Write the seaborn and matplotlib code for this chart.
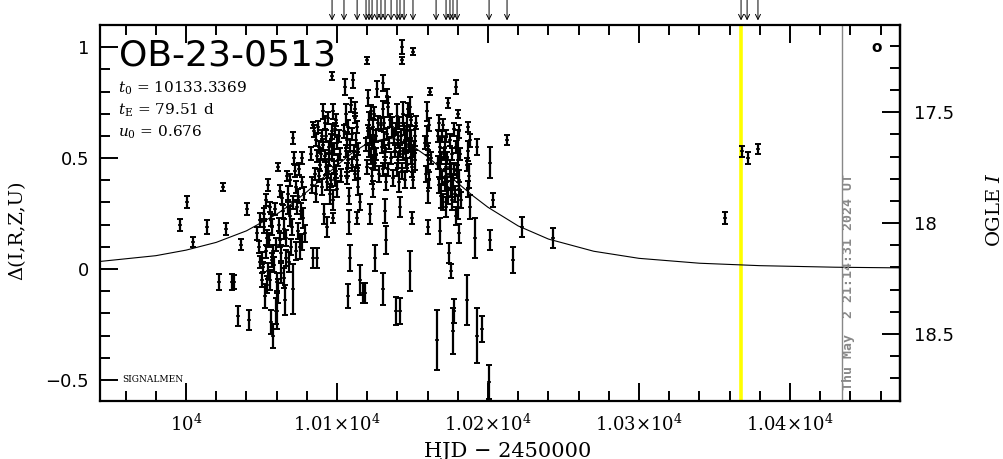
import matplotlib
matplotlib.use('Agg')
import matplotlib.pyplot as plt
from matplotlib.ticker import FixedLocator, MultipleLocator
import pandas as pd
import seaborn as sns

# event info
event_name = 'OB-23-0513'
param_lines = [r'$t_0$ = 10133.3369', r'$t_{\rm E}$ = 79.51 d', r'$u_0$ = 0.676']
stamp = 'Thu May  2 21:14:31 2024 UT'

# photometry: HJD-2450000, delta mag, error
hjd = [9996.0, 10000.7, 10004.6, 10013.9, 10024.5, 10026.5, 10021.9, 10030.5, 10031.8, 10034.4,
       10040.4, 10036.4, 10041.7, 10049.0, 10050.3, 10051.0, 10052.3, 10053.6, 10054.3, 10055.6,
       10057.0, 10057.6, 10058.3, 10059.6, 10057.6, 10060.9, 10062.3, 10063.6, 10064.9, 10066.2,
       10066.9, 10067.6, 10068.9, 10069.5, 10070.9, 10070.9, 10071.5, 10072.9, 10073.5, 10074.2,
       10076.8, 10077.5, 10076.8, 10054.3, 10055.6, 10060.9, 10062.9, 10065.6, 10056.3, 10048.3,
       10051.7, 10053.0, 10084.1, 10085.4, 10084.1, 10086.1, 10086.8, 10088.1, 10088.7, 10090.1,
       10090.7, 10091.4, 10092.7, 10093.4, 10093.4, 10094.7, 10095.4, 10096.7, 10096.7, 10097.4,
       10097.4, 10097.4, 10098.0, 10098.7, 10099.3, 10100.0, 10100.7, 10105.3, 10106.0, 10106.6,
       10107.3, 10106.6, 10108.0, 10108.6, 10107.3, 10110.6, 10111.9, 10112.6, 10113.2, 10113.9,
       10113.2, 10115.2, 10117.2, 10119.9, 10120.5, 10121.2, 10121.9, 10122.5, 10123.2, 10121.9,
       10123.8, 10124.5, 10125.2, 10125.2, 10126.5, 10130.5, 10130.5, 10131.1, 10131.8, 10132.4,
       10131.8, 10132.4, 10130.5, 10133.8, 10136.4, 10139.7, 10140.4, 10140.4, 10141.1, 10141.7,
       10141.7, 10143.1, 10143.1, 10143.7, 10145.0, 10145.7, 10146.4, 10148.3, 10149.0, 10149.7,
       10149.7, 10148.3, 10150.3, 10151.7, 10151.7, 10159.6, 10159.6, 10160.3, 10160.3, 10161.6,
       10160.3, 10166.2, 10167.5, 10168.2, 10168.2, 10168.9, 10168.2, 10170.2, 10171.5, 10172.2,
       10172.8, 10172.2, 10173.5, 10174.2, 10175.5, 10175.5, 10176.2, 10176.8, 10177.5, 10178.8,
       10180.2, 10180.2, 10180.2, 10180.8, 10180.2, 10180.8, 10186.1, 10186.8, 10186.8, 10187.4,
       10188.1, 10192.7, 10191.4, 10192.7, 10196.0, 10201.3, 10201.3, 10200.7, 10203.3, 10212.6,
       10222.5, 10216.6, 10243.1, 10368.2, 10372.2, 10378.8, 10357.0, 10139.0, 10118.5, 10086.8,
       10075.5, 10060.3, 10096.7]
dmag = [0.20, 0.30, 0.12, 0.19, 0.37, 0.18, -0.06, -0.06, -0.06, -0.21,
        0.27, 0.11, -0.23, 0.22, 0.05, 0.01, -0.12, 0.14, 0.38, 0.28,
        0.19, 0.08, 0.02, -0.19, -0.30, 0.46, 0.13, 0.32, 0.18, 0.05,
        0.42, 0.34, 0.24, 0.10, -0.09, 0.59, 0.50, 0.37, 0.28, 0.17,
        0.39, 0.23, 0.12, -0.01, -0.05, -0.10, -0.02, -0.14, -0.24, 0.10,
        0.25, 0.31, 0.05, 0.43, 0.65, 0.58, 0.51, 0.55, 0.47, 0.60,
        0.71, 0.25, 0.46, 0.39, 0.19, 0.55, 0.34, 0.62, 0.53, 0.71,
        0.31, 0.23, 0.46, 0.40, 0.67, 0.57, 0.49, 0.82, 0.70, 0.58,
        0.49, 0.41, 0.21, 0.05, -0.12, 0.85, 0.68, 0.58, 0.49, 0.37,
        0.23, -0.05, -0.11, 0.94, 0.77, 0.67, 0.60, 0.51, 0.42, 0.25,
        0.64, 0.55, 0.48, 0.05, 0.81, 0.84, 0.72, 0.58, 0.49, 0.39,
        0.26, 0.13, -0.09, 0.73, 0.64, 0.69, 0.58, 0.49, 0.39, 0.28,
        -0.19, 1.00, 0.94, 0.70, 0.58, 0.49, 0.64, 0.73, 0.58, 0.46,
        0.23, -0.01, 0.98, 0.60, 0.49, 0.71, 0.60, 0.49, 0.35, 0.80,
        0.19, -0.32, 0.66, 0.55, 0.45, 0.33, 0.17, 0.65, 0.55, 0.46,
        0.37, 0.28, 0.75, 0.07, -0.01, 0.42, 0.31, -0.28, -0.19, 0.82,
        0.70, 0.58, 0.49, 0.40, 0.28, 0.16, -0.14, 0.64, 0.53, 0.42,
        0.28, 0.55, 0.14, -0.30, -0.27, 0.48, 0.13, -0.51, 0.31, 0.58,
        0.19, 0.04, 0.14, 0.53, 0.50, 0.54, 0.23, -0.19, -0.11, 0.05,
        0.10, -0.19, 0.87]
derr = [0.027, 0.027, 0.023, 0.032, 0.018, 0.027, 0.036, 0.036, 0.032, 0.045,
        0.027, 0.023, 0.045, 0.032, 0.027, 0.023, 0.054, 0.036, 0.027, 0.023,
        0.036, 0.027, 0.032, 0.059, 0.054, 0.018, 0.032, 0.027, 0.045, 0.036,
        0.023, 0.036, 0.045, 0.036, 0.113, 0.027, 0.027, 0.027, 0.032, 0.036,
        0.023, 0.045, 0.036, 0.036, 0.045, 0.054, 0.045, 0.068, 0.054, 0.027,
        0.023, 0.027, 0.045, 0.027, 0.014, 0.027, 0.027, 0.027, 0.027, 0.027,
        0.032, 0.045, 0.036, 0.036, 0.045, 0.027, 0.045, 0.032, 0.032, 0.032,
        0.045, 0.023, 0.027, 0.027, 0.027, 0.027, 0.027, 0.036, 0.045, 0.036,
        0.036, 0.027, 0.054, 0.059, 0.054, 0.032, 0.023, 0.032, 0.036, 0.036,
        0.027, 0.068, 0.045, 0.014, 0.036, 0.036, 0.032, 0.036, 0.036, 0.045,
        0.036, 0.036, 0.032, 0.059, 0.036, 0.036, 0.036, 0.036, 0.036, 0.036,
        0.054, 0.063, 0.072, 0.045, 0.045, 0.054, 0.036, 0.036, 0.045, 0.045,
        0.059, 0.032, 0.014, 0.054, 0.045, 0.036, 0.054, 0.045, 0.045, 0.045,
        0.027, 0.090, 0.014, 0.045, 0.045, 0.045, 0.045, 0.045, 0.054, 0.014,
        0.032, 0.135, 0.036, 0.045, 0.045, 0.054, 0.059, 0.027, 0.045, 0.045,
        0.045, 0.045, 0.023, 0.045, 0.032, 0.054, 0.045, 0.104, 0.054, 0.032,
        0.018, 0.045, 0.045, 0.045, 0.054, 0.045, 0.113, 0.023, 0.045, 0.054,
        0.054, 0.036, 0.090, 0.126, 0.059, 0.068, 0.045, 0.077, 0.032, 0.023,
        0.045, 0.059, 0.045, 0.023, 0.027, 0.023, 0.027, 0.063, 0.045, 0.045,
        0.054, 0.081, 0.018]

# the crowded part of the season (many overlapping bars)
crowd_hjd = [10047.0, 10048.9, 10050.0, 10051.5, 10052.9, 10053.9, 10055.0, 10056.0, 10056.8, 10058.9,
             10059.3, 10060.2, 10061.5, 10062.0, 10063.0, 10064.0, 10065.0, 10066.0, 10067.2, 10068.0,
             10069.0, 10070.0, 10071.0, 10072.0, 10073.0, 10074.0, 10075.0, 10076.0, 10077.0, 10078.3,
             10079.0, 10082.5, 10083.3, 10085.0, 10085.8, 10087.4, 10087.9, 10089.3, 10089.8, 10091.0,
             10091.9, 10092.3, 10093.0, 10094.0, 10094.3, 10095.0, 10095.9, 10096.2, 10098.3, 10098.9,
             10099.6, 10100.3, 10101.2, 10101.8, 10102.3, 10104.5, 10105.7, 10106.3, 10107.0, 10107.7,
             10108.4, 10109.2, 10109.8, 10110.2, 10111.2, 10111.6, 10112.2, 10112.9, 10113.6, 10114.2,
             10114.9, 10119.5, 10120.1, 10120.8, 10121.5, 10122.2, 10122.9, 10123.5, 10124.1, 10124.8,
             10125.5, 10126.1, 10127.0, 10127.6, 10129.3, 10129.9, 10130.2, 10131.4, 10132.0, 10132.8,
             10133.2, 10134.0, 10134.7, 10135.3, 10136.0, 10136.9, 10137.5, 10138.3, 10139.2, 10139.9,
             10140.8, 10141.4, 10142.2, 10142.7, 10143.4, 10144.2, 10144.8, 10145.5, 10146.1, 10146.8,
             10147.4, 10148.0, 10148.7, 10149.3, 10150.0, 10150.6, 10151.2, 10152.0, 10158.5, 10159.0,
             10160.0, 10160.9, 10161.2, 10162.0, 10166.8, 10167.0, 10167.8, 10168.6, 10169.2, 10169.6,
             10170.0, 10170.8, 10171.2, 10171.9, 10172.5, 10173.1, 10173.8, 10174.5, 10174.9, 10175.2,
             10175.9, 10176.5, 10177.2, 10177.8, 10178.2, 10178.6, 10179.0, 10179.6, 10180.5, 10181.0,
             10181.5, 10182.0, 10186.3, 10187.0, 10187.8]
crowd_dmag = [0.16, 0.03, -0.05, 0.19, 0.08, -0.07, 0.13, 0.22, 0.04, 0.27,
              0.11, -0.06, 0.20, 0.35, 0.07, 0.26, -0.04, 0.14, 0.28, 0.03,
              0.40, 0.19, 0.30, 0.44, 0.08, 0.33, 0.45, 0.26, 0.50, 0.34,
              0.16, 0.52, 0.38, 0.62, 0.34, 0.64, 0.42, 0.52, 0.37, 0.56,
              0.66, 0.51, 0.60, 0.44, 0.68, 0.49, 0.58, 0.40, 0.54, 0.63,
              0.44, 0.36, 0.60, 0.52, 0.42, 0.62, 0.53, 0.45, 0.64, 0.33,
              0.56, 0.74, 0.47, 0.61, 0.53, 0.43, 0.72, 0.64, 0.54, 0.44,
              0.30, 0.56, 0.46, 0.62, 0.53, 0.71, 0.57, 0.48, 0.36, 0.70,
              0.60, 0.52, 0.66, 0.43, 0.65, 0.55, 0.45, 0.66, 0.53, 0.78,
              0.61, 0.45, 0.57, 0.67, 0.50, 0.41, 0.60, 0.53, 0.63, 0.45,
              0.66, 0.53, 0.60, 0.44, 0.52, 0.63, 0.40, 0.55, 0.47, 0.72,
              0.56, 0.62, 0.50, 0.67, 0.53, 0.40, 0.55, 0.66, 0.57, 0.43,
              0.54, 0.65, 0.40, 0.50, 0.60, 0.48, 0.38, 0.50, 0.60, 0.41,
              0.30, 0.52, 0.38, 0.60, 0.42, 0.50, 0.33, 0.58, 0.46, 0.36,
              0.52, 0.40, 0.63, 0.45, 0.34, 0.55, 0.24, 0.44, 0.36, 0.62,
              0.52, 0.31, 0.47, 0.36, 0.58]
crowd_derr = [0.030, 0.027, 0.032, 0.027, 0.030, 0.040, 0.030, 0.027, 0.032, 0.027,
              0.030, 0.040, 0.030, 0.027, 0.036, 0.030, 0.045, 0.036, 0.030, 0.045,
              0.027, 0.036, 0.030, 0.027, 0.040, 0.030, 0.027, 0.036, 0.027, 0.030,
              0.040, 0.030, 0.036, 0.027, 0.036, 0.027, 0.030, 0.027, 0.036, 0.027,
              0.030, 0.027, 0.027, 0.030, 0.027, 0.027, 0.027, 0.030, 0.027, 0.027,
              0.030, 0.036, 0.027, 0.027, 0.030, 0.030, 0.027, 0.030, 0.030, 0.036,
              0.027, 0.032, 0.027, 0.027, 0.027, 0.030, 0.032, 0.027, 0.027, 0.030,
              0.036, 0.030, 0.030, 0.027, 0.027, 0.030, 0.027, 0.030, 0.036, 0.030,
              0.027, 0.027, 0.030, 0.036, 0.030, 0.027, 0.030, 0.027, 0.027, 0.032,
              0.027, 0.030, 0.027, 0.030, 0.027, 0.036, 0.030, 0.027, 0.027, 0.030,
              0.027, 0.027, 0.030, 0.036, 0.027, 0.027, 0.036, 0.027, 0.030, 0.030,
              0.027, 0.030, 0.027, 0.027, 0.027, 0.036, 0.027, 0.030, 0.030, 0.036,
              0.027, 0.030, 0.036, 0.027, 0.027, 0.030, 0.036, 0.027, 0.027, 0.030,
              0.036, 0.027, 0.030, 0.027, 0.030, 0.027, 0.036, 0.027, 0.030, 0.036,
              0.027, 0.030, 0.030, 0.027, 0.036, 0.027, 0.040, 0.030, 0.030, 0.030,
              0.027, 0.036, 0.030, 0.036, 0.030]

# model light curve
model_hjd = [9943, 9980, 10000, 10020, 10040, 10060, 10070, 10080, 10090, 10100,
             10110, 10120, 10133.3, 10140, 10150, 10160, 10170, 10180, 10190, 10200,
             10220, 10240, 10270, 10300, 10340, 10380, 10430, 10473]
model_dmag = [0.034, 0.060, 0.085, 0.120, 0.172, 0.247, 0.294, 0.348, 0.407, 0.467,
              0.523, 0.566, 0.590, 0.584, 0.554, 0.506, 0.447, 0.387, 0.330, 0.278,
              0.194, 0.135, 0.080, 0.048, 0.026, 0.015, 0.008, 0.005]

# alert arrows along the top
alert_hjd = [10096.7, 10104.6, 10113.3, 10119.2, 10121.2, 10123.2, 10126.5, 10129.1, 10131.8, 10135.8,
             10139.7, 10141.7, 10144.4, 10150.3, 10165.6, 10172.2, 10174.8, 10176.8, 10179.5, 10200.7,
             10212.6, 10367.6, 10371.6, 10378.8]

now_hjd = 10367.6
stamp_hjd = 10434.4

xticks = [10000, 10100, 10200, 10300, 10400]
xtick_labels = [r'$10^4$', r'$1.01{\times}10^4$', r'$1.02{\times}10^4$',
                r'$1.03{\times}10^4$', r'$1.04{\times}10^4$']
yticks = [-0.5, 0, 0.5, 1]
ytick_labels = ['\u22120.5', '0', '0.5', '1']
ogle_ticks = [17.5, 18, 18.5]
ogle_labels = ['17.5', '18', '18.5']
ogle_zero = 18.207

sns.set_theme(style='ticks')
plt.rcParams['font.family'] = ['DejaVu Sans']
plt.rcParams['mathtext.fontset'] = 'dejavuserif'
for key in ['text.color', 'axes.labelcolor', 'xtick.color', 'ytick.color', 'axes.edgecolor']:
    plt.rcParams[key] = 'black'

df = pd.DataFrame({'hjd': hjd + crowd_hjd, 'dmag': dmag + crowd_dmag, 'err': derr + crowd_derr})
model = pd.DataFrame({'hjd': model_hjd, 'dmag': model_dmag})

fig = plt.figure(figsize=(10.04, 4.59), dpi=100)
ax = fig.add_axes([0.0996, 0.1264, 0.797, 0.8192])

ax.axvline(now_hjd, color='#ffff00', lw=2.6, zorder=1)
ax.axvline(stamp_hjd, color='#888888', lw=1.0, zorder=1)

sns.lineplot(data=model, x='hjd', y='dmag', ax=ax, color='black', lw=0.8, zorder=2)
ax.errorbar(df['hjd'], df['dmag'], yerr=df['err'], fmt='none', ecolor='black',
            elinewidth=1.6, capsize=2, capthick=1.4, zorder=3)
sns.scatterplot(data=df, x='hjd', y='dmag', ax=ax, color='black', marker='_', s=12,
                linewidth=1.2, zorder=4)

ax.set_xlim(9943, 10473)
ax.set_ylim(-0.595, 1.1)

# arrows above the frame
xtrans = ax.get_xaxis_transform()
for t in alert_hjd:
    ax.annotate('', xy=(t, 1.012), xytext=(t, 1.068), xycoords=xtrans, textcoords=xtrans,
                annotation_clip=False,
                arrowprops=dict(arrowstyle='->', lw=0.7, color='black',
                                shrinkA=0, shrinkB=0, mutation_scale=9))

ax.xaxis.set_major_locator(FixedLocator(xticks))
ax.set_xticklabels(xtick_labels)
ax.xaxis.set_minor_locator(MultipleLocator(20))
ax.yaxis.set_major_locator(FixedLocator(yticks))
ax.set_yticklabels(ytick_labels)
ax.yaxis.set_minor_locator(MultipleLocator(0.1))

ax.tick_params(which='both', direction='in', top=True, right=False, width=1.4, colors='black')
ax.tick_params(which='major', length=13, labelsize=13)
ax.tick_params(which='minor', length=7)
ax.tick_params(axis='x', pad=9)
ax.tick_params(axis='y', pad=8)
for s in ax.spines.values():
    s.set_linewidth(1.6)
    s.set_color('black')

sec = ax.secondary_yaxis('right', functions=(lambda d: ogle_zero - d, lambda m: ogle_zero - m))
sec.yaxis.set_major_locator(FixedLocator(ogle_ticks))
sec.set_yticklabels(ogle_labels)
sec.yaxis.set_minor_locator(MultipleLocator(0.1))
sec.tick_params(which='both', direction='in', width=1.4, colors='black')
sec.tick_params(which='major', length=13, labelsize=13, pad=10)
sec.tick_params(which='minor', length=7)
sec.spines['right'].set_linewidth(1.6)

ax.set_xlabel('HJD \u2212 2450000', fontsize=15, family='DejaVu Serif')
ax.xaxis.set_label_coords(0.509, -0.108)
ax.set_ylabel('\u0394(I,R,Z,U)', fontsize=14, family='DejaVu Serif')
ax.yaxis.set_label_coords(-0.092, 0.455)
ax.text(1.119, 0.508, 'OGLE $I$', transform=ax.transAxes, rotation=90, ha='center',
        va='center', fontsize=14, family='DejaVu Serif')

ax.text(0.024, 0.965, event_name, transform=ax.transAxes, ha='left', va='top', fontsize=26)
for i, line in enumerate(param_lines):
    ax.text(0.0225, 0.832 - i * 0.0585, line, transform=ax.transAxes, ha='left', va='center',
            fontsize=11, family='DejaVu Serif')
ax.text(0.0275, 0.056, 'SIGNALMEN', transform=ax.transAxes, ha='left', va='center',
        fontsize=6.5, family='DejaVu Serif')
ax.text(0.971, 0.939, 'o', transform=ax.transAxes, ha='center', va='center',
        fontsize=11, fontweight='bold')
ax.text(stamp_hjd + 4.2, 0.03, stamp, transform=xtrans, rotation=90, ha='center',
        va='bottom', fontsize=9.5, color='#888888', family='DejaVu Sans Mono',
        fontweight='bold')

fig.savefig('out.png', dpi=100)
